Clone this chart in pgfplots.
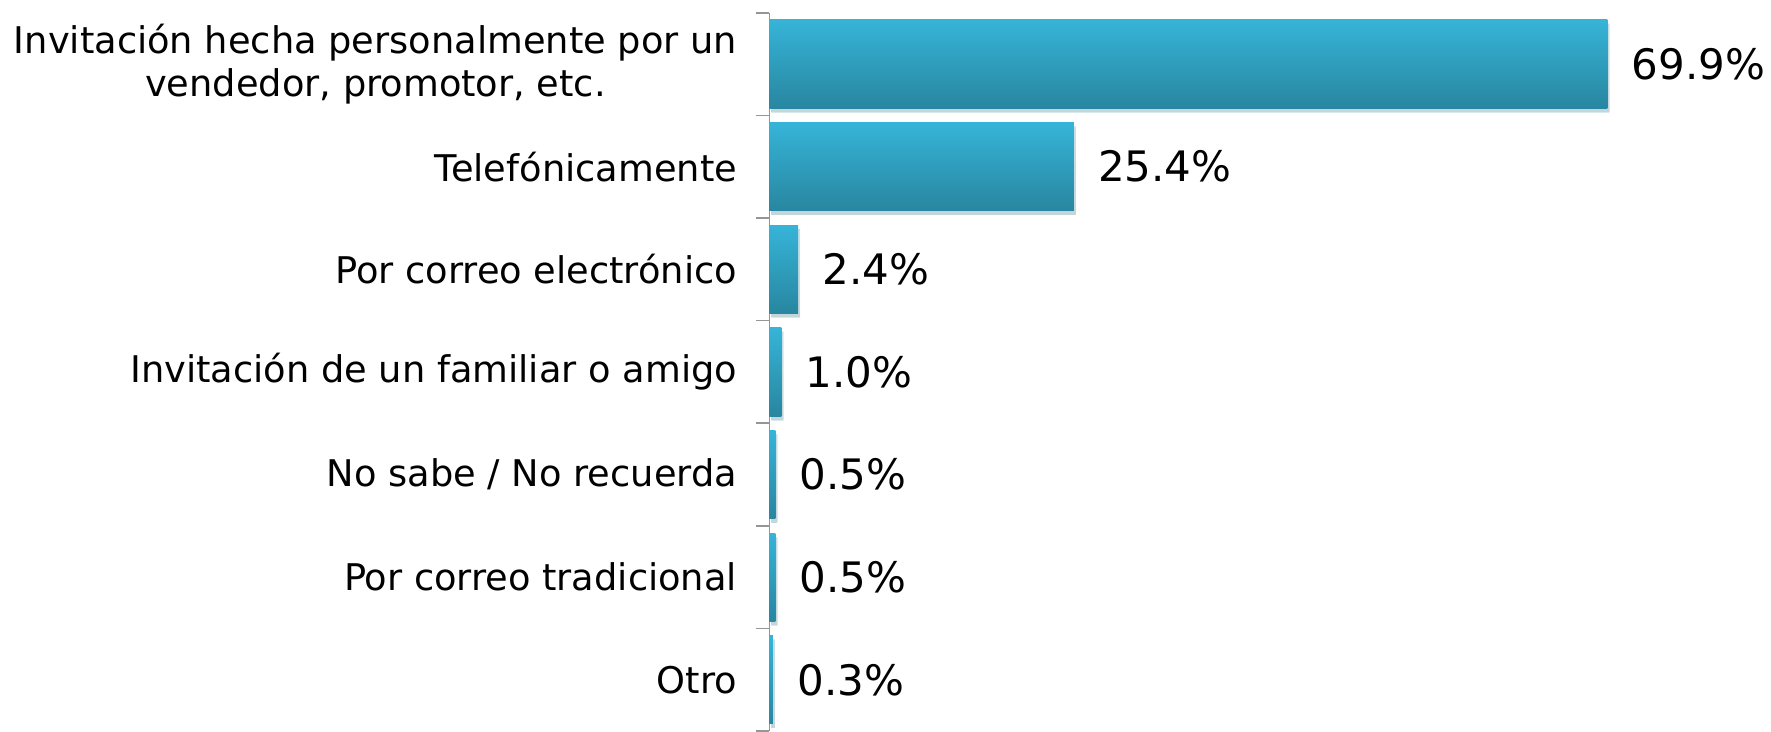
\documentclass[border=0pt]{standalone}
\usepackage{fontspec}
\setmainfont{DejaVu Sans}
\usepackage{pgfplots}
\pgfplotsset{compat=1.18}
\usetikzlibrary{shadows}

\definecolor{bartop}{RGB}{54,180,216}
\definecolor{barbot}{RGB}{40,134,160}
\definecolor{axisgray}{RGB}{150,150,150}

\pgfplotsset{
    onebar/.style={draw=none, top color=bartop, bottom color=barbot,
        drop shadow={shadow xshift=1pt, shadow yshift=-2pt, opacity=0.18}}
}

\begin{document}
\begin{tikzpicture}
    \begin{axis}[
        scale only axis,
        width=420pt,
        height=359.5pt,
        xmin=0, xmax=70,
        ymin=-0.5, ymax=6.5,
        y dir=reverse,
        axis x line=none,
        axis y line*=left,
        axis line style={axisgray, line width=0.8pt},
        ytick={0,...,6},
        yticklabels={
            {Invitación hecha personalmente por un\\vendedor, promotor, etc.},
            Telefónicamente,
            Por correo electrónico,
            Invitación de un familiar o amigo,
            No sabe / No recuerda,
            Por correo tradicional,
            Otro},
        major tick length=0pt,
        minor ytick={-0.5,0.5,...,6.5},
        minor tick length=6.5pt,
        tick align=outside,
        ytick pos=left,
        minor tick style={axisgray, line width=0.8pt},
        yticklabel style={font=\fontsize{18.4}{22}\selectfont, align=center, inner sep=0pt, xshift=-16pt},
        xbar,
        bar width=0.86,
        bar shift=0pt,
        nodes near coords={\pgfmathprintnumber[fixed, fixed zerofill, precision=1]{\pgfplotspointmeta}\%},
        every node near coord/.append style={font=\fontsize{21}{25}\selectfont, anchor=west, inner sep=0pt, xshift=12pt, black},
        /pgf/number format/assume math mode=true,
        clip=false
    ]
    % one plot per bar so each one gets its own gradient
    \addplot[onebar] coordinates {(69.9,0)};
    \addplot[onebar] coordinates {(25.4,1)};
    \addplot[onebar] coordinates {(2.4,2)};
    \addplot[onebar] coordinates {(1.0,3)};
    \addplot[onebar] coordinates {(0.5,4)};
    \addplot[onebar] coordinates {(0.5,5)};
    \addplot[onebar] coordinates {(0.3,6)};
    \end{axis}
    % margins as in the reference
    \path (current bounding box.north west) ++(-7pt,6pt) coordinate (m1);
    \path (current bounding box.south east) ++(3pt,0pt) coordinate (m2);
    \path (m1) (m2);
\end{tikzpicture}
\end{document}
